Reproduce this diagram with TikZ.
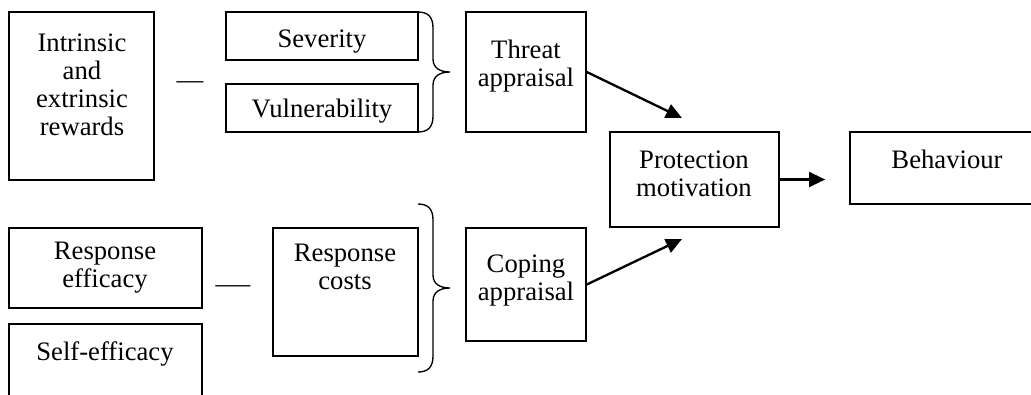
\documentclass[tikz,border=0pt]{standalone}
\usepackage{fontspec}
\setmainfont{Liberation Serif}
\usepackage{tikz}
\usetikzlibrary{arrows.meta}

% right curly brace: x, top, middle, bottom
\newcommand{\curly}[4]{%
  \draw[brc] (#1,#2) .. controls (#1+10,#2) and (#1+15,#2+5) .. (#1+15,#2+16)
    -- (#1+15,#3-13) .. controls (#1+15,#3-4) and (#1+22,#3) .. (#1+32,#3)
    .. controls (#1+22,#3) and (#1+15,#3+4) .. (#1+15,#3+13)
    -- (#1+15,#4-16) .. controls (#1+15,#4-5) and (#1+10,#4) .. (#1,#4);}

\begin{document}
\begin{tikzpicture}[x=0.75pt,y=-0.75pt]

\tikzset{box/.style = {shape=rectangle,draw,line width=1.2pt,inner sep=0pt}}
\tikzset{txt/.style = {align=center,inner sep=0pt,font=\fontsize{20pt}{21pt}\selectfont}}
\tikzset{brc/.style = {line width=1pt}}
\tikzset{edge/.style = {->,> = {Triangle[length=12pt,width=11pt]},line width=1.75pt}}

\useasboundingbox (0,0) rectangle (1031,394);

% boxes
\node[box,minimum width=108.75pt,minimum height=126pt] (intr) at (81.5,96) {};
\node[box,minimum width=144pt,minimum height=36pt] (sev) at (322,36) {};
\node[box,minimum width=144pt,minimum height=36pt] (vul) at (322,108) {};
\node[box,minimum width=90pt,minimum height=90pt] (threat) at (526,72) {};
\node[box,minimum width=126.75pt,minimum height=71.25pt] (pm) at (694.5,179.5) {};
\node[box,minimum width=146.25pt,minimum height=54pt] (beh) at (947.5,168) {};
\node[box,minimum width=144.75pt,minimum height=60pt] (reff) at (105.5,268) {};
\node[box,minimum width=144.75pt,minimum height=72pt] (self) at (105.5,372) {};
\node[box,minimum width=108.75pt,minimum height=96pt] (rcost) at (345.5,292) {};
\node[box,minimum width=90pt,minimum height=84.75pt] (coping) at (526,284.5) {};

% texts
\node[txt] (intr-t) at (82,85) {Intrinsic\\and\\extrinsic\\rewards};
\node[txt] (sev-t) at (322,42) {Severity};
\node[txt] (vul-t) at (322,111) {Vulnerability};
\node[txt] (threat-t) at (526,66) {Threat\\appraisal};
\node[txt] (pm-t) at (694,174) {Protection\\motivation};
\node[txt] (beh-t) at (947,159) {Behaviour};
\node[txt] (reff-t) at (105,268) {Response\\efficacy};
\node[txt] (self-t) at (105,354) {Self-efficacy};
\node[txt] (rcost-t) at (345,267) {Response\\costs};
\node[txt] (coping-t) at (526,281) {Coping\\appraisal};

\node[txt] (dash1) at (190,85) {—};
\node[txt] (dash2) at (233,289) {\scalebox{1.3}[1]{—}};

% braces
\curly{418}{12}{72}{132}
\curly{418}{204}{288}{372}

% edges
\coordinate (pmtop) at (682,118);
\coordinate (pmbot) at (682,239);
\draw[edge] (threat.east) to (pmtop);
\draw[edge] (coping.east) to (pmbot);
\draw[edge,shorten >=18pt] (pm.east) to (pm.east -| beh.west);

\end{tikzpicture}
\end{document}
